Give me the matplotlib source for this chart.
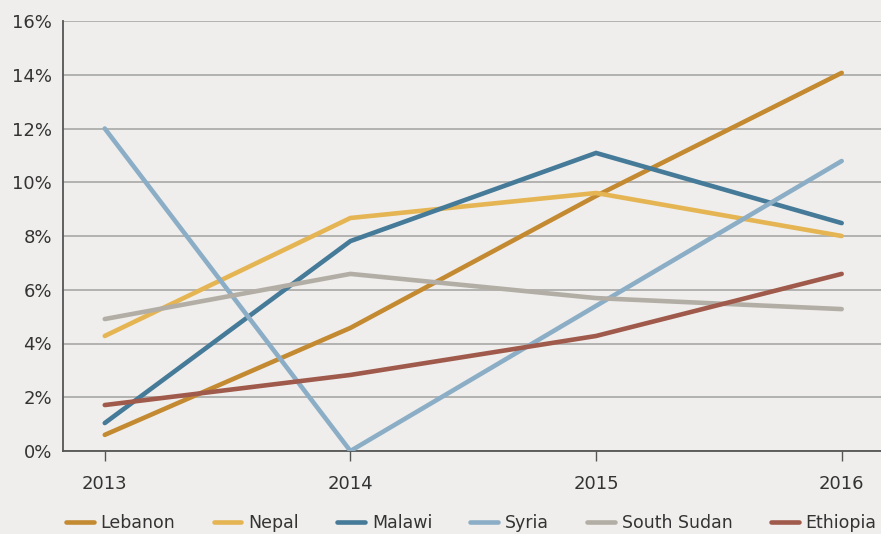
import matplotlib.pyplot as plt
from matplotlib.ticker import FuncFormatter

years = [2013, 2014, 2015, 2016]
lebanon = [0.6, 4.58, 9.49, 14.07]
nepal = [4.28, 8.67, 9.6, 8.0]
malawi = [1.04, 7.81, 11.09, 8.48]
syria = [12.0, 0.0, 5.4, 10.79]
south_sudan = [4.91, 6.59, 5.69, 5.28]
ethiopia = [1.71, 2.83, 4.28, 6.59]

series = [
    ('Lebanon', lebanon, '#C48A32'),
    ('Nepal', nepal, '#E5B453'),
    ('Malawi', malawi, '#457A98'),
    ('Syria', syria, '#8BAEC6'),
    ('South Sudan', south_sudan, '#B3AEA5'),
    ('Ethiopia', ethiopia, '#A05A4C'),
]

bg = '#EFEEEC'
fig = plt.figure(figsize=(8.81, 5.34), dpi=100, facecolor=bg)
ax = fig.add_axes([63 / 881, 83 / 534, 818 / 881, 430 / 534], facecolor=bg)

for name, vals, col in series:
    ax.plot(years, vals, color=col, lw=3.3, solid_capstyle='round',
            solid_joinstyle='miter', label=name, zorder=3)

ax.set_ylim(0, 16)
ax.set_yticks(range(0, 17, 2))
ax.yaxis.set_major_formatter(FuncFormatter(lambda v, p: f'{int(v)}%'))
ax.set_xlim(2012.83, 2016.16)
ax.set_xticks(years)

ax.grid(axis='y', color='#A8A8A6', lw=1.2, zorder=1)
for s in ['top', 'right']:
    ax.spines[s].set_visible(False)
for s in ['left', 'bottom']:
    ax.spines[s].set_color('#555555')
    ax.spines[s].set_linewidth(1.3)
ax.tick_params(axis='y', length=0, pad=8, labelsize=13, labelcolor='#333333')
ax.tick_params(axis='x', length=7, width=1, color='#555555', pad=10,
               labelsize=13, labelcolor='#333333')

leg = fig.legend(loc='center', bbox_to_anchor=(0.535, 11 / 534), ncol=6,
                 frameon=False, handlelength=1.6, handletextpad=0.4,
                 columnspacing=2.2, prop={'size': 12.5})
for t in leg.get_texts():
    t.set_color('#333333')

fig.savefig('out.png', dpi=100, facecolor=bg)
